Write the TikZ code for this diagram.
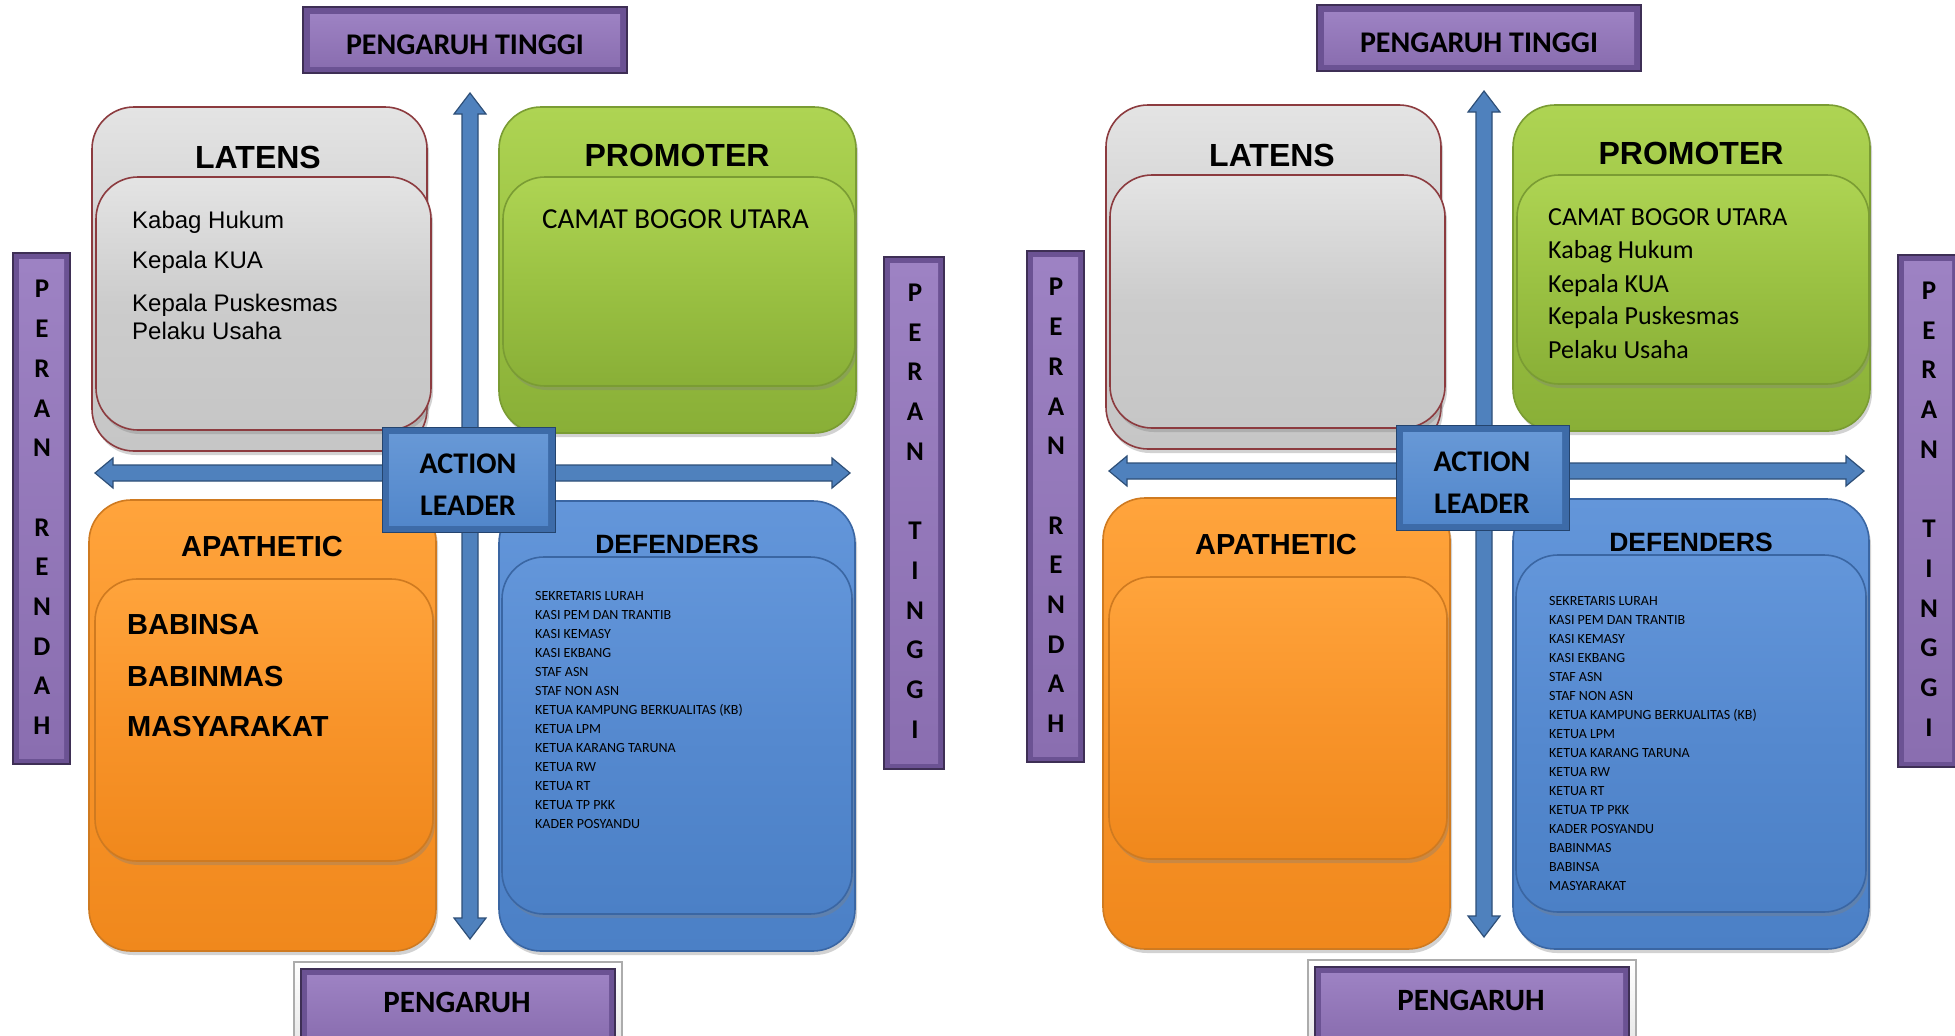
\documentclass[tikz,border=0pt]{standalone}
\usepackage{fontspec}
\setmainfont{Liberation Sans}
\newfontfamily\calf{Carlito}
\usetikzlibrary{calc,shadows}
\definecolor{purF}{HTML}{8A6EB0}
\definecolor{purT}{HTML}{9D82C3}
\definecolor{purE}{HTML}{6B5293}
\definecolor{purD}{HTML}{3E2F55}
\definecolor{greyT}{HTML}{E4E4E4}
\definecolor{greyM}{HTML}{CCCCCC}
\definecolor{greyB}{HTML}{C6C6C6}
\definecolor{latRed}{HTML}{8C3B3F}
\definecolor{grnT}{HTML}{AED453}
\definecolor{grnM}{HTML}{9BC243}
\definecolor{grnB}{HTML}{89AF37}
\definecolor{grnD}{HTML}{7A9C33}
\definecolor{orgT}{HTML}{FFA43C}
\definecolor{orgM}{HTML}{F8942A}
\definecolor{orgB}{HTML}{F0881C}
\definecolor{orgD}{HTML}{CF7A20}
\definecolor{bluT}{HTML}{6396DA}
\definecolor{bluM}{HTML}{5589CF}
\definecolor{bluB}{HTML}{4B80C6}
\definecolor{bluD}{HTML}{3A66A3}
\definecolor{arrF}{HTML}{4F81BD}
\definecolor{arrD}{HTML}{2E4F78}
\definecolor{actF}{HTML}{5287CB}
\definecolor{actT}{HTML}{6798D6}
\definecolor{actE}{HTML}{3D6BA8}
\definecolor{actD}{HTML}{24446E}
\tikzset{
  qbox/.style={rectangle, rounded corners=42pt, inner sep=0pt, line width=1.6pt,
    drop shadow={opacity=0.35, shadow xshift=2pt, shadow yshift=-4pt}},
  greybox/.style={qbox, draw=latRed, top color=greyT, bottom color=greyB, middle color=greyM},
  grnbox/.style={qbox, draw=grnD, top color=grnT, bottom color=grnB, middle color=grnM},
  orgbox/.style={qbox, draw=orgD, top color=orgT, bottom color=orgB, middle color=orgM},
  blubox/.style={qbox, draw=bluD, top color=bluT, bottom color=bluB, middle color=bluM},
  blockarr/.style={draw=arrD, fill=arrF, line width=1.2pt, line join=miter},
  pout/.style={rectangle, inner sep=0pt, draw=purD, line width=1.2pt, fill=purE},
  pin/.style={rectangle, inner sep=0pt, top color=purT, bottom color=purF},
  actout/.style={rectangle, inner sep=0pt, draw=actD, line width=1pt, fill=actE},
  actin/.style={rectangle, inner sep=0pt, top color=actT, bottom color=actF},
  ttl/.style={font=\bfseries\fontsize{32}{38}\selectfont, anchor=base, inner sep=0pt},
  lbl/.style={font=\calf\bfseries\fontsize{30}{36}\selectfont, anchor=base, inner sep=0pt},
  vlet/.style={font=\calf\bfseries\fontsize{27}{39.7}\selectfont, align=center, inner sep=0pt},
  itm/.style={font=\fontsize{24}{29}\selectfont, anchor=base west, inner sep=0pt},
  cal/.style={font=\calf\fontsize{29}{34}\selectfont, anchor=base west, inner sep=0pt},
  calr/.style={font=\calf\fontsize{26}{31}\selectfont, anchor=base west, inner sep=0pt},
  bigb/.style={font=\bfseries\fontsize{29}{34}\selectfont, anchor=base west, inner sep=0pt},
  lst/.style={font=\calf\fontsize{14}{17}\selectfont, anchor=base west, inner sep=0pt},
}
\newcommand\mkframe[1]{%
  % quadrant boxes
  \node[greybox, minimum width=335pt, minimum height=344pt] (#1latb) at (259.5,279) {};
  \node[greybox, minimum width=335pt, minimum height=253pt] (#1lati) at (263.5,303.5) {};
  \node[grnbox, minimum width=357pt, minimum height=326pt] (#1prob) at (677.5,270) {};
  \node[grnbox, minimum width=352pt, minimum height=209pt] (#1proi) at (679,281.5) {};
  \node[orgbox, minimum width=347pt, minimum height=451pt] (#1apab) at (262.5,725.5) {};
  \node[orgbox, minimum width=338pt, minimum height=282pt] (#1apai) at (264,720) {};
  \node[blubox, minimum width=356pt, minimum height=450pt] (#1defb) at (677,726) {};
  \node[blubox, minimum width=350pt, minimum height=357pt] (#1defi) at (677,735.5) {};
  % titles
  \node[ttl] (#1latt) at (258,168) {LATENS};
  \node[ttl] (#1prot) at (677,166) {PROMOTER};
  \node[ttl, font=\bfseries\fontsize{29}{34}\selectfont] (#1apat) at (262,556) {APATHETIC};
  \node[ttl, font=\bfseries\fontsize{26.5}{32}\selectfont] (#1deft) at (677,553) {DEFENDERS};
  % axes
  \coordinate (#1vt) at (470,93);
  \coordinate (#1vb) at (470,939);
  \coordinate (#1hl) at (95,473);
  \coordinate (#1hr) at (850,473);
  \draw[blockarr] (#1vt) -- ++(16,21) -- ++(-8,0) -- ($(#1vb)+(8,-21)$) -- ++(8,0) -- (#1vb)
     -- ++(-16,-21) -- ++(8,0) -- ($(#1vt)+(-8,21)$) -- ++(-8,0) -- cycle;
  \draw[blockarr] (#1hl) -- ++(18,-15) -- ++(0,7) -- ($(#1hr)+(-18,-8)$) -- ++(0,-7) -- (#1hr)
     -- ++(-18,15) -- ++(0,-7) -- ($(#1hl)+(18,8)$) -- ++(0,7) -- cycle;
  % action leader
  \node[actout, minimum width=173pt, minimum height=105pt] (#1actb) at (468.5,479.5) {};
  \node[actin, minimum width=159pt, minimum height=91pt] (#1acti) at (#1actb) {};
  \node[lbl] (#1act1) at (468,473) {ACTION};
  \node[lbl] (#1act2) at (468,515) {LEADER};
  % top label
  \node[pout, minimum width=324pt, minimum height=66pt] (#1ptb) at (465,40) {};
  \node[pin, minimum width=310pt, minimum height=52pt] (#1pti) at (#1ptb) {};
  \node[lbl] (#1ptt) at (465,54) {PENGARUH TINGGI};
  % bottom label
  \node[rectangle, inner sep=0pt, draw=gray!65, line width=1.5pt, top color=white, bottom color=gray!20,
        minimum width=328pt, minimum height=90pt] (#1pbf) at (458,1007) {};
  \node[pout, minimum width=314pt, minimum height=76pt] (#1pbb) at (458,1007) {};
  \node[pin, minimum width=302pt, minimum height=64pt] (#1pbi) at (#1pbb) {};
  \node[lbl, font=\calf\bfseries\fontsize{31}{36}\selectfont] (#1pbt) at (457,1012) {PENGARUH};
  % side labels
  \node[pout, minimum width=57pt, minimum height=511pt] (#1prb) at (41.5,508.5) {};
  \node[pin, minimum width=45pt, minimum height=499pt] (#1pri) at (#1prb) {};
  \node[vlet] (#1prt) at (42,507.5) {P\\E\\R\\A\\N\\[39.7pt]R\\E\\N\\D\\A\\H};
  \node[pout, minimum width=60pt, minimum height=512pt] (#1ptrb) at (914,513) {};
  \node[pin, minimum width=48pt, minimum height=500pt] (#1ptri) at (#1ptrb) {};
  \node[vlet] (#1ptrt) at (915,511) {P\\E\\R\\A\\N\\[39.7pt]T\\I\\N\\G\\G\\I};
}
\begin{document}
\begin{tikzpicture}[x=1pt,y=-1pt]
\useasboundingbox (0,0) rectangle (1955,1036);
\fill[white] (0,0) rectangle (1955,1036);
% ---------- left diagram ----------
\mkframe{L}
\node[itm] (Lk1) at (132,228) {Kabag Hukum};
\node[itm] (Lk2) at (132,268) {Kepala KUA};
\node[itm] (Lk3) at (132,311) {Kepala Puskesmas};
\node[itm] (Lk4) at (132,339) {Pelaku Usaha};
\node[cal] (Lc1) at (542,228) {CAMAT BOGOR UTARA};
\node[bigb] (La1) at (127,634) {BABINSA};
\node[bigb] (La2) at (127,686) {BABINMAS};
\node[bigb] (La3) at (127,736) {MASYARAKAT};
\foreach \t [count=\i] in {SEKRETARIS LURAH, KASI PEM DAN TRANTIB, KASI KEMASY, KASI EKBANG,
  STAF ASN, STAF NON ASN, KETUA KAMPUNG BERKUALITAS (KB), KETUA LPM, KETUA KARANG TARUNA,
  KETUA RW, KETUA RT, KETUA TP PKK, KADER POSYANDU}
  \node[lst] (Ld\i) at (535,{600.5+19*(\i-1)}) {\t};
% ---------- right diagram ----------
\begin{scope}[shift={(1014,-2)}]
\mkframe{R}
\node[calr] (Rp1) at (534,227) {CAMAT BOGOR UTARA};
\node[calr] (Rp2) at (534,260) {Kabag Hukum};
\node[calr] (Rp3) at (534,294) {Kepala KUA};
\node[calr] (Rp4) at (534,326) {Kepala Puskesmas};
\node[calr] (Rp5) at (534,360) {Pelaku Usaha};
\foreach \t [count=\i] in {SEKRETARIS LURAH, KASI PEM DAN TRANTIB, KASI KEMASY, KASI EKBANG,
  STAF ASN, STAF NON ASN, KETUA KAMPUNG BERKUALITAS (KB), KETUA LPM, KETUA KARANG TARUNA,
  KETUA RW, KETUA RT, KETUA TP PKK, KADER POSYANDU, BABINMAS, BABINSA, MASYARAKAT}
  \node[lst] (Rd\i) at (535,{607.5+19.03*(\i-1)}) {\t};
\end{scope}
\end{tikzpicture}
\end{document}
